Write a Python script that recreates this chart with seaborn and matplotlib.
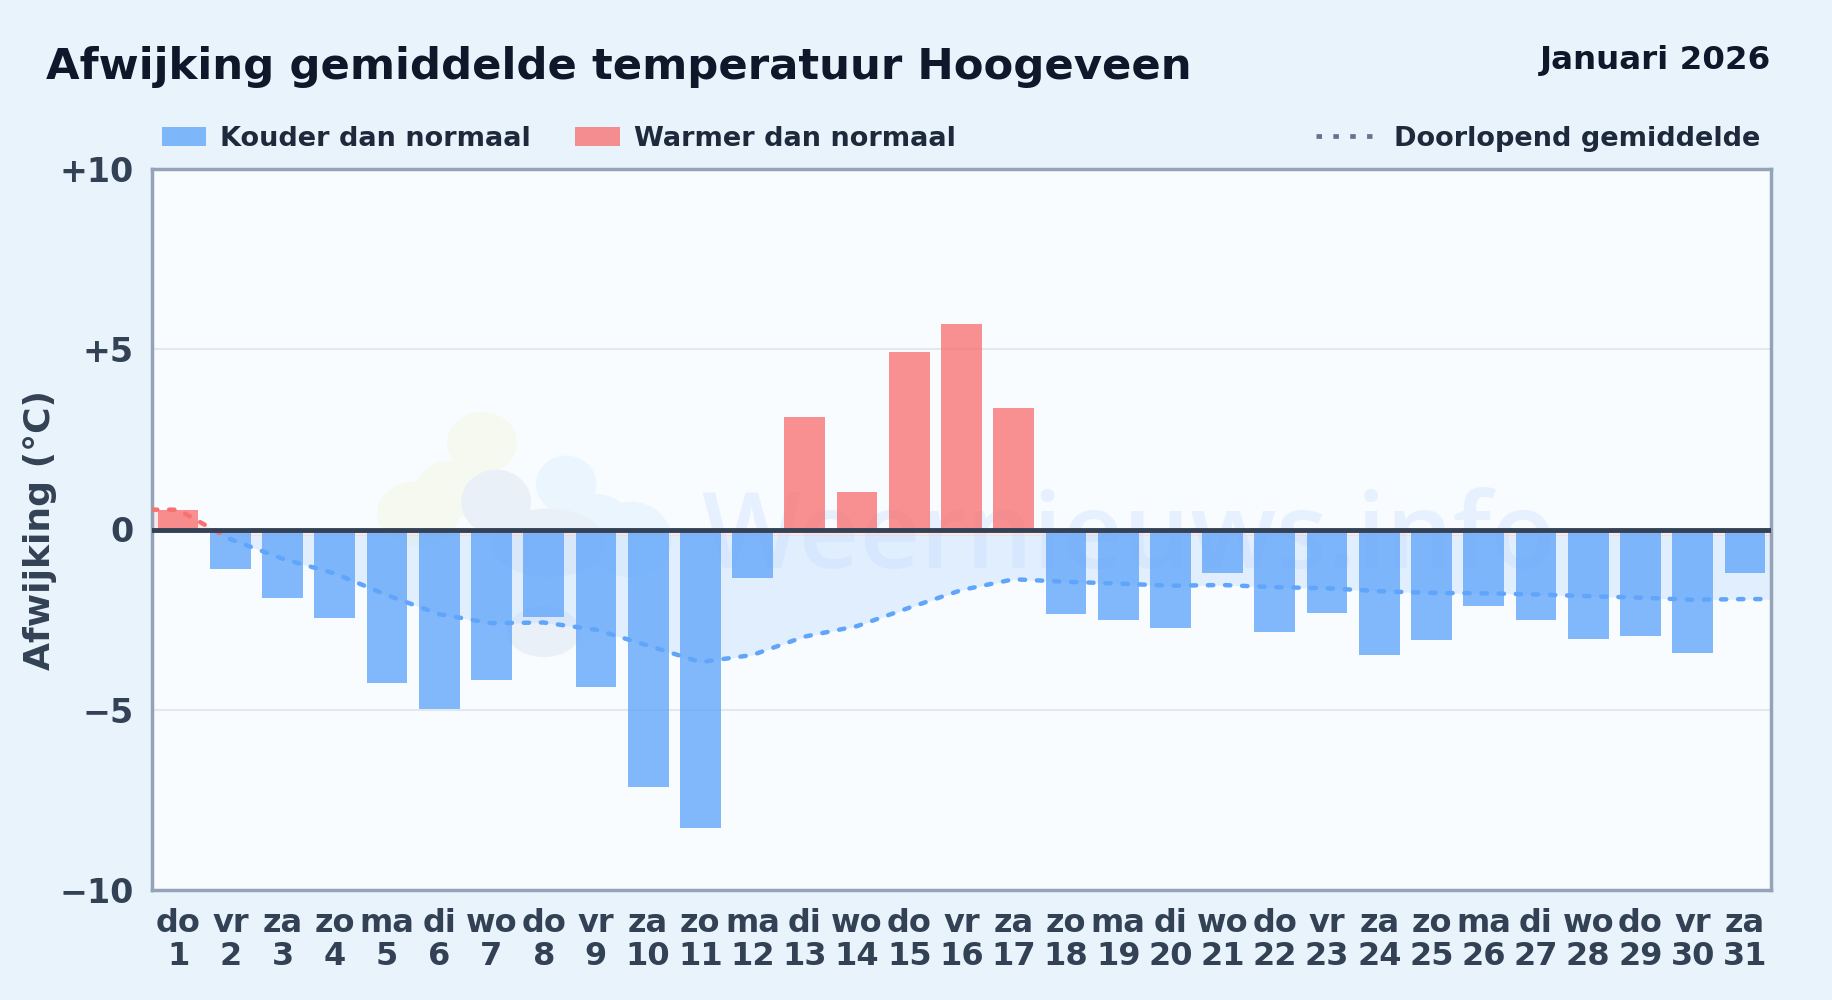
import numpy as np
import pandas as pd
import seaborn as sns
import matplotlib.pyplot as plt
from matplotlib.patches import Patch, Ellipse, Rectangle
from matplotlib.lines import Line2D

weekdays = ['do', 'vr', 'za', 'zo', 'ma', 'di', 'wo', 'do', 'vr', 'za', 'zo', 'ma', 'di', 'wo', 'do', 'vr',
            'za', 'zo', 'ma', 'di', 'wo', 'do', 'vr', 'za', 'zo', 'ma', 'di', 'wo', 'do', 'vr', 'za']
days = list(range(1, 32))
afwijking = [0.55, -1.1, -1.9, -2.45, -4.25, -4.97, -4.17, -2.42, -4.36, -7.15, -8.28, -1.35, 3.13, 1.05,
             4.92, 5.7, 3.38, -2.35, -2.5, -2.74, -1.2, -2.84, -2.32, -3.48, -3.06, -2.12, -2.5, -3.03,
             -2.95, -3.42, -1.2]
gemiddelde = [0.55, -0.27, -0.81, -1.22, -1.82, -2.35, -2.6, -2.58, -2.78, -3.22, -3.68, -3.48, -2.97, -2.68,
              -2.17, -1.68, -1.38, -1.45, -1.5, -1.56, -1.54, -1.6, -1.63, -1.71, -1.76, -1.77, -1.8, -1.85,
              -1.89, -1.95, -1.93]
yticks = [-10, -5, 0, 5, 10]
yticklabels = ['\u221210', '\u22125', '0', '+5', '+10']

LINE_BLUE = '#60a5fa'
LINE_RED = '#f87171'
INK = '#334155'
PANEL = '#f8fcff'

plt.rcParams['font.family'] = ['DejaVu Sans']
df = pd.DataFrame({'x': range(len(days)), 'afwijking': afwijking})
df['soort'] = np.where(df['afwijking'] < 0, 'Kouder dan normaal', 'Warmer dan normaal')
df['label'] = [w + '\n' + str(d) for w, d in zip(weekdays, days)]

fig = plt.figure(figsize=(18.32, 10), dpi=100, facecolor='#e8f3fc')
ax = fig.add_axes([152 / 1832, 1 - 890 / 1000, (1771 - 152) / 1832, (890 - 169) / 1000], facecolor=PANEL)

# watermark: logo blobs + name
for (cx, cy, w, h, c) in [(5.82, 2.41, 1.34, 1.7, '#f5f9f0'), (5.2, 1.1, 1.3, 1.6, '#f5f9f0'),
                          (4.59, 0.44, 1.57, 1.8, '#f5f9f0'),
                          (7.43, 1.25, 1.16, 1.6, '#ebf5fd'), (8.66, -0.28, 1.57, 2.1, '#ebf5fd'),
                          (7.9, 0.4, 1.4, 1.2, '#ebf5fd'),
                          (6.09, 0.76, 1.34, 1.8, '#e9f0f7'), (7.09, -0.37, 2.2, 1.9, '#e9f0f7'),
                          (7.0, -2.84, 1.4, 1.4, '#e9f0f7')]:
    ax.add_patch(Ellipse((cx, cy), w, h, facecolor=c, edgecolor='none', zorder=0.5))
ax.text(18.2, -0.3, 'Weernieuws.info', color='#3b82f6', alpha=0.09, fontsize=76, fontweight='semibold',
        ha='center', va='center', family='Open Sans', zorder=0.6)

ax.axhline(5, color='#e2e8ee', lw=1.5, zorder=1)
ax.axhline(-5, color='#e2e8ee', lw=1.5, zorder=1)

lijn = pd.DataFrame({'x': np.r_[-0.5, df['x'], 30.5], 'y': np.r_[gemiddelde[0], gemiddelde, gemiddelde[-1]]})

sns.barplot(data=df, x='x', y='afwijking', hue='soort', dodge=False, width=0.78, ax=ax, legend=False,
            palette={'Kouder dan normaal': LINE_BLUE, 'Warmer dan normaal': LINE_RED}, saturation=1,
            alpha=0.78, zorder=2)

# doorlopend gemiddelde, rood tot net onder nul en daarna blauw
for kleur, vul, clip_y, clip_h in [(LINE_BLUE, '#bfdbfe', -10, 9.85), (LINE_RED, '#fecaca', -0.15, 10.15)]:
    fill = ax.fill_between(lijn['x'], lijn['y'], 0, color=vul, alpha=0.4, lw=0, zorder=1.5)
    fill.set_clip_path(Rectangle((-0.5, clip_y), 31, clip_h, transform=ax.transData))
    n = len(ax.lines)
    sns.lineplot(data=lijn, x='x', y='y', color=kleur, lw=3.2, ax=ax, zorder=3, estimator=None, sort=False)
    l = ax.lines[n]
    l.set_linestyle((0, (1.2, 2.65)))
    l.set_dash_capstyle('round')
    l.set_clip_path(Rectangle((-0.5, clip_y), 31, clip_h, transform=ax.transData))

ax.axhline(0, color=INK, lw=3.5, zorder=4)

ax.set_xlim(-0.5, 30.5)
ax.set_ylim(-10, 10)
ax.set_yticks(yticks)
ax.set_yticklabels(yticklabels)
ax.set_xticks(df['x'])
ax.set_xticklabels(df['label'], linespacing=1.1)
ax.tick_params(axis='x', length=0, labelsize=23, labelcolor=INK, pad=13)
ax.tick_params(axis='y', length=0, labelsize=24, labelcolor=INK, pad=13)
for t in ax.get_xticklabels() + ax.get_yticklabels():
    t.set_fontweight('bold')
ax.set_xlabel('')
ax.set_ylabel('Afwijking (\u00b0C)', fontsize=26, fontweight='bold', color=INK, labelpad=2)
for s in ax.spines.values():
    s.set_color('#94a3b8')
    s.set_linewidth(2.5)

fig.text(46 / 1832, 1 - 67 / 1000, 'Afwijking gemiddelde temperatuur Hoogeveen', fontsize=31.25, fontweight='bold',
         color='#0f172a', va='center')
fig.text(1771 / 1832, 1 - 60 / 1000, 'Januari 2026', fontsize=23.4, fontweight='bold', color='#0f172a',
         va='center', ha='right')

fig.legend(handles=[Patch(facecolor=LINE_BLUE, edgecolor='none', alpha=0.78, label='Kouder dan normaal'),
                    Patch(facecolor=LINE_RED, edgecolor='none', alpha=0.78, label='Warmer dan normaal')],
           loc='center left', bbox_to_anchor=(161.5 / 1832, 1 - 139 / 1000), ncol=2, frameon=False,
           prop={'size': 19.55, 'weight': 'bold'}, labelcolor='#1e293b', handlelength=1.64, handleheight=0.72,
           handletextpad=0.52, columnspacing=1.64, borderpad=0, borderaxespad=0)
fig.legend(handles=[Line2D([], [], color='#64748b', lw=3.4, ls=(0, (1.17, 2.4)), label='Doorlopend gemiddelde')],
           loc='center right', bbox_to_anchor=(1760 / 1832, 1 - 139 / 1000), frameon=False,
           prop={'size': 19.55, 'weight': 'bold'}, labelcolor='#1e293b', handlelength=2.07,
           handletextpad=0.78, borderpad=0, borderaxespad=0)

fig.savefig('out.png', dpi=100, facecolor=fig.get_facecolor())
